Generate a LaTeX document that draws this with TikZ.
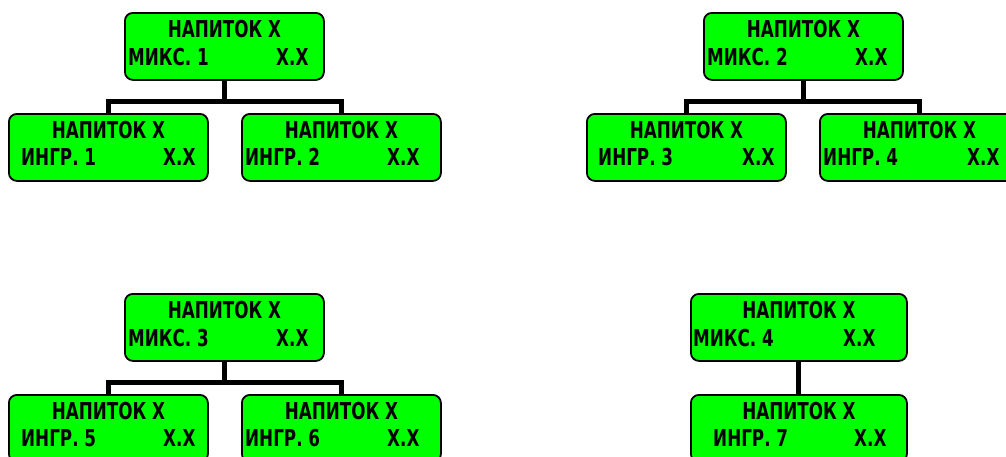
\documentclass[tikz,border=0pt]{standalone}
\usepackage{fontspec}
\newfontfamily\lcdfont{DejaVu Sans}[FakeStretch=0.72]
\definecolor{lcdgreen}{HTML}{00FF00}
\tikzset{
  x=1pt, y=-1pt,
  dbox/.style={draw=black, line width=1.8pt, fill=lcdgreen, rounded corners=8pt, minimum height=67pt, inner sep=0pt, anchor=north west},
  txt/.style={inner sep=0pt, font=\lcdfont\bfseries\fontsize{23.3}{28}\selectfont, text=black},
  conn/.style={line width=5pt, line join=miter, line cap=butt}
}
\newcommand\drinkbox[6]{% name, x, y, width, left offset, label ; right offset via #6
  \node[dbox, minimum width=#4] (#1) at (#2,#3) {};
  \node[txt, anchor=base] (#1t) at ([yshift=-25pt]#1.north) {НАПИТОК X};
}
\begin{document}
\begin{tikzpicture}
\useasboundingbox (0,0) rectangle (1006,456);
% group 1
\drinkbox{m1}{124}{12}{199pt}{}{}
\node[txt, anchor=base west] (m1a) at ([xshift=4pt,yshift=-53pt]m1.north west) {МИКС. 1};
\node[txt, anchor=base west] (m1b) at ([xshift=152pt,yshift=-53pt]m1.north west) {X.X};
\drinkbox{i1}{8}{113}{199pt}{}{}
\node[txt, anchor=base west] (i1a) at ([xshift=13pt,yshift=-52pt]i1.north west) {ИНГР. 1};
\node[txt, anchor=base west] (i1b) at ([xshift=155pt,yshift=-52pt]i1.north west) {X.X};
\drinkbox{i2}{241}{113}{199pt}{}{}
\node[txt, anchor=base west] (i2a) at ([xshift=4pt,yshift=-52pt]i2.north west) {ИНГР. 2};
\node[txt, anchor=base west] (i2b) at ([xshift=146pt,yshift=-52pt]i2.north west) {X.X};
\coordinate (j1) at ([yshift=-20.5pt]m1.south);
\draw[conn] (m1.south) -- (j1);
\draw[conn] (i1.north) |- (j1) -| (i2.north);
% group 2
\drinkbox{m2}{703}{12}{199pt}{}{}
\node[txt, anchor=base west] (m2a) at ([xshift=4pt,yshift=-53pt]m2.north west) {МИКС. 2};
\node[txt, anchor=base west] (m2b) at ([xshift=152pt,yshift=-53pt]m2.north west) {X.X};
\drinkbox{i3}{586}{113}{199pt}{}{}
\node[txt, anchor=base west] (i3a) at ([xshift=12pt,yshift=-52pt]i3.north west) {ИНГР. 3};
\node[txt, anchor=base west] (i3b) at ([xshift=156pt,yshift=-52pt]i3.north west) {X.X};
\drinkbox{i4}{819}{113}{199pt}{}{}
\node[txt, anchor=base west] (i4a) at ([xshift=4pt,yshift=-52pt]i4.north west) {ИНГР. 4};
\node[txt, anchor=base west] (i4b) at ([xshift=148pt,yshift=-52pt]i4.north west) {X.X};
\coordinate (j2) at ([yshift=-20.5pt]m2.south);
\draw[conn] (m2.south) -- (j2);
\draw[conn] (i3.north) |- (j2) -| (i4.north);
% group 3
\drinkbox{m3}{124}{293}{199pt}{}{}
\node[txt, anchor=base west] (m3a) at ([xshift=4pt,yshift=-53pt]m3.north west) {МИКС. 3};
\node[txt, anchor=base west] (m3b) at ([xshift=152pt,yshift=-53pt]m3.north west) {X.X};
\drinkbox{i5}{8}{394}{199pt}{}{}
\node[txt, anchor=base west] (i5a) at ([xshift=13pt,yshift=-52pt]i5.north west) {ИНГР. 5};
\node[txt, anchor=base west] (i5b) at ([xshift=155pt,yshift=-52pt]i5.north west) {X.X};
\drinkbox{i6}{241}{394}{199pt}{}{}
\node[txt, anchor=base west] (i6a) at ([xshift=4pt,yshift=-52pt]i6.north west) {ИНГР. 6};
\node[txt, anchor=base west] (i6b) at ([xshift=146pt,yshift=-52pt]i6.north west) {X.X};
\coordinate (j3) at ([yshift=-20.5pt]m3.south);
\draw[conn] (m3.south) -- (j3);
\draw[conn] (i5.north) |- (j3) -| (i6.north);
% group 4
\drinkbox{m4}{690}{293}{216pt}{}{}
\node[txt, anchor=base west] (m4a) at ([xshift=3pt,yshift=-53pt]m4.north west) {МИКС. 4};
\node[txt, anchor=base west] (m4b) at ([xshift=153pt,yshift=-53pt]m4.north west) {X.X};
\drinkbox{i7}{690}{394}{216pt}{}{}
\node[txt, anchor=base west] (i7a) at ([xshift=23pt,yshift=-52pt]i7.north west) {ИНГР. 7};
\node[txt, anchor=base west] (i7b) at ([xshift=164pt,yshift=-52pt]i7.north west) {X.X};
\draw[conn] (m4.south) -- (i7.north);
\end{tikzpicture}
\end{document}
